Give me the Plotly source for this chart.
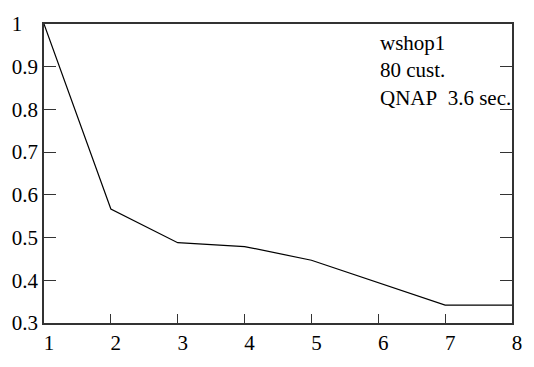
import plotly.graph_objects as go

x_vals = [1, 2, 3, 4, 5, 6, 7, 8]
y_vals = [1.0, 0.567, 0.488, 0.479, 0.447, 0.395, 0.342, 0.342]
y_ticks = [0.3, 0.4, 0.5, 0.6, 0.7, 0.8, 0.9, 1.0]
y_ticktext = ["0.3", "0.4", "0.5", "0.6", "0.7", "0.8", "0.9", "1\u00a0\u00a0\u00a0"]
x_ticks = [1, 2, 3, 4, 5, 6, 7, 8]
label_lines = ["wshop1", "80 cust.", "QNAP\u00a0\u00a03.6 sec."]

font = dict(family="Liberation Serif", size=21, color="black")

fig = go.Figure()
fig.add_trace(go.Scatter(x=x_vals, y=y_vals, mode="lines",
                         line=dict(color="black", width=1.2), showlegend=False))

fig.update_layout(
    width=534, height=367,
    margin=dict(l=40, r=12, t=16, b=31),
    paper_bgcolor="white", plot_bgcolor="white",
    font=font,
    xaxis=dict(range=[1, 8], tickvals=x_ticks, ticktext=[str(v) for v in x_ticks],
               ticks="inside", ticklen=9, tickwidth=1.2, tickcolor="#333",
               showline=True, linecolor="#333", linewidth=1.5, mirror=True,
               showgrid=False, zeroline=False, ticklabelshift=5, ticklabelstandoff=0,
               tickfont=font),
    yaxis=dict(range=[0.3, 1.0], tickvals=y_ticks, ticktext=y_ticktext,
               ticks="inside", ticklen=12, tickwidth=1.2, tickcolor="#333",
               showline=True, linecolor="#333", linewidth=1.5, mirror="ticks",
               showgrid=False, zeroline=False, ticklabelstandoff=0,
               tickfont=font),
    annotations=[dict(xref="paper", yref="paper", x=0.714, y=0.984,
                      xanchor="left", yanchor="top", showarrow=False, align="left",
                      text="<br>".join(label_lines), font=font)],
)

fig.write_html("out.html")
